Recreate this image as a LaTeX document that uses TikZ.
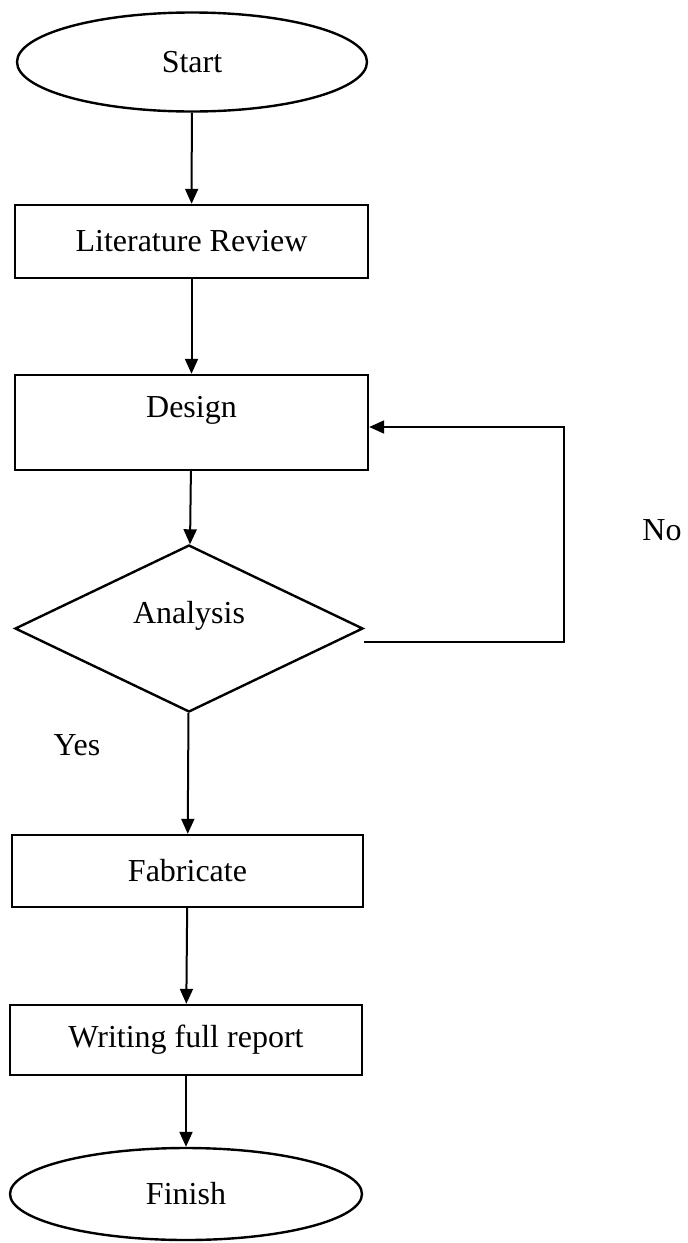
\documentclass[tikz,border=0pt]{standalone}
\usepackage{fontspec}
\setmainfont{Liberation Serif}
\usetikzlibrary{shapes.geometric,arrows.meta}

\begin{document}
\begin{tikzpicture}[x=1pt, y=1pt, >={Triangle[length=15pt,width=13pt]},
  every node/.style={font=\fontsize{32}{38}\selectfont},
  box/.style={draw, rectangle, line width=2.4pt, inner sep=0pt},
  term/.style={draw, ellipse, line width=2.4pt, inner sep=0pt},
  flow/.style={->, line width=2pt}]
  \useasboundingbox (0,0) rectangle (688,-1243);

  \node[term, minimum width=350pt, minimum height=99pt] (start) at (192,-62) {Start};
  \node[box, minimum width=353pt, minimum height=73pt] (lit) at (191.5,-241.5) {Literature Review};
  \node[box, minimum width=353pt, text height=42pt, text depth=53pt] (design) at (191.5,-422.5) {Design};
  \node[draw, diamond, aspect=2, line width=2.4pt, inner sep=0pt, text height=22pt, text depth=33pt,
        minimum width=348pt, minimum height=167pt] (analysis) at (189,-628.5) {Analysis};
  \node[box, minimum width=351pt, minimum height=72pt] (fab) at (187.5,-871) {Fabricate};
  \node[box, minimum width=352pt, minimum height=70pt] (report) at (186,-1040) {Writing full report};
  \node[term, minimum width=352pt, minimum height=92pt] (finish) at (186,-1194) {Finish};

  \node (yes) at (77,-745) {Yes};
  \node (no) at (662,-530) {No};

  \draw[flow] (start) -- (lit);
  \draw[flow] (lit) -- (design);
  \draw[flow] (design) -- (analysis);
  \draw[flow] (analysis) -- (fab);
  \draw[flow] (fab) -- (report);
  \draw[flow] (report) -- (finish);

  % back to design
  \coordinate (loop) at (564,-427);
  \draw[flow] ([yshift=-13pt]analysis.east) -| (loop) -- (design.east |- loop);
\end{tikzpicture}
\end{document}
